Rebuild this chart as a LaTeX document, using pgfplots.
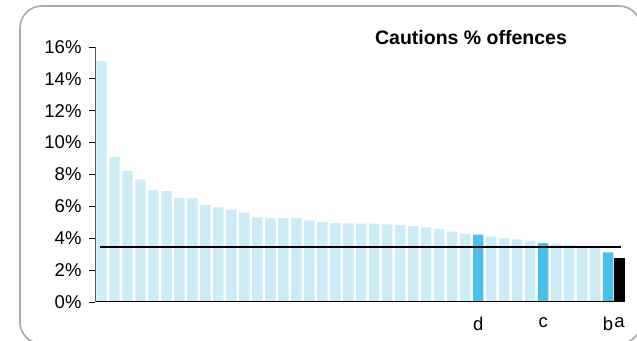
\documentclass[border=0pt]{standalone}
\usepackage{pgfplots}
\pgfplotsset{compat=1.18}
\usepackage{fontspec}
\setmainfont{Liberation Sans}
\definecolor{lightb}{HTML}{CDECF8}
\definecolor{midb}{HTML}{48C0EA}
\definecolor{framec}{HTML}{A8A8A8}
\begin{document}
\begin{tikzpicture}[x=1pt,y=1pt]
\clip (0,0) rectangle (637,340);
\draw[framec, line width=1.6pt, rounded corners=22pt] (20,-4) rectangle (641,334);
\begin{axis}[
  at={(95pt,38pt)}, anchor=south west,
  scale only axis, width=530pt, height=255pt,
  xmin=-0.5, xmax=40.3, ymin=0, ymax=16,
  axis on top,
  axis x line*=bottom, axis y line*=left,
  x axis line style={black, line width=1pt, -},
  y axis line style={black!65, line width=1pt, -},
  ytick={0,2,...,16},
  yticklabels={0\%,2\%,4\%,6\%,8\%,10\%,12\%,14\%,16\%},
  xtick={29,34,39,39.88},
  xticklabels={d,c,b,a},
  major tick length=6pt,
  tick style={black, line width=0.8pt},
  xtick style={draw=none},
  tick align=outside,
  ticklabel style={font=\fontsize{18.5}{22}\selectfont},
  yticklabel style={xshift=-4pt},
  xticklabel style={yshift=-6pt},
  ybar, bar width=0.8, bar shift=0pt,
  clip=false,
]
\addplot[fill=lightb, draw=none] coordinates {
(0,15.12) (1,9.11) (2,8.23) (3,7.69) (4,7.02) (5,6.96) (6,6.52) (7,6.52)
(8,6.08) (9,5.94) (10,5.79) (11,5.60) (12,5.31) (13,5.27) (14,5.27) (15,5.27)
(16,5.12) (17,5.02) (18,4.95) (19,4.93) (20,4.91) (21,4.91) (22,4.87) (23,4.83)
(24,4.76) (25,4.68) (26,4.58) (27,4.41) (28,4.26) (30,4.12) (31,4.01) (32,3.93)
(33,3.84) (35,3.64) (36,3.57) (37,3.42) (38,3.40)
};
\addplot[fill=midb, draw=none] coordinates {(29,4.22) (34,3.69) (39,3.11)};
\addplot[fill=black, draw=none] coordinates {(39.88,2.76)};
\addplot[black, line width=1.6pt, sharp plot, mark=none] coordinates {(-0.1,3.45) (39.98,3.45)};
\end{axis}
\node[anchor=base, font=\fontsize{19.5}{23}\selectfont\bfseries] at (471,295) {Cautions \% offences};
\end{tikzpicture}
\end{document}
